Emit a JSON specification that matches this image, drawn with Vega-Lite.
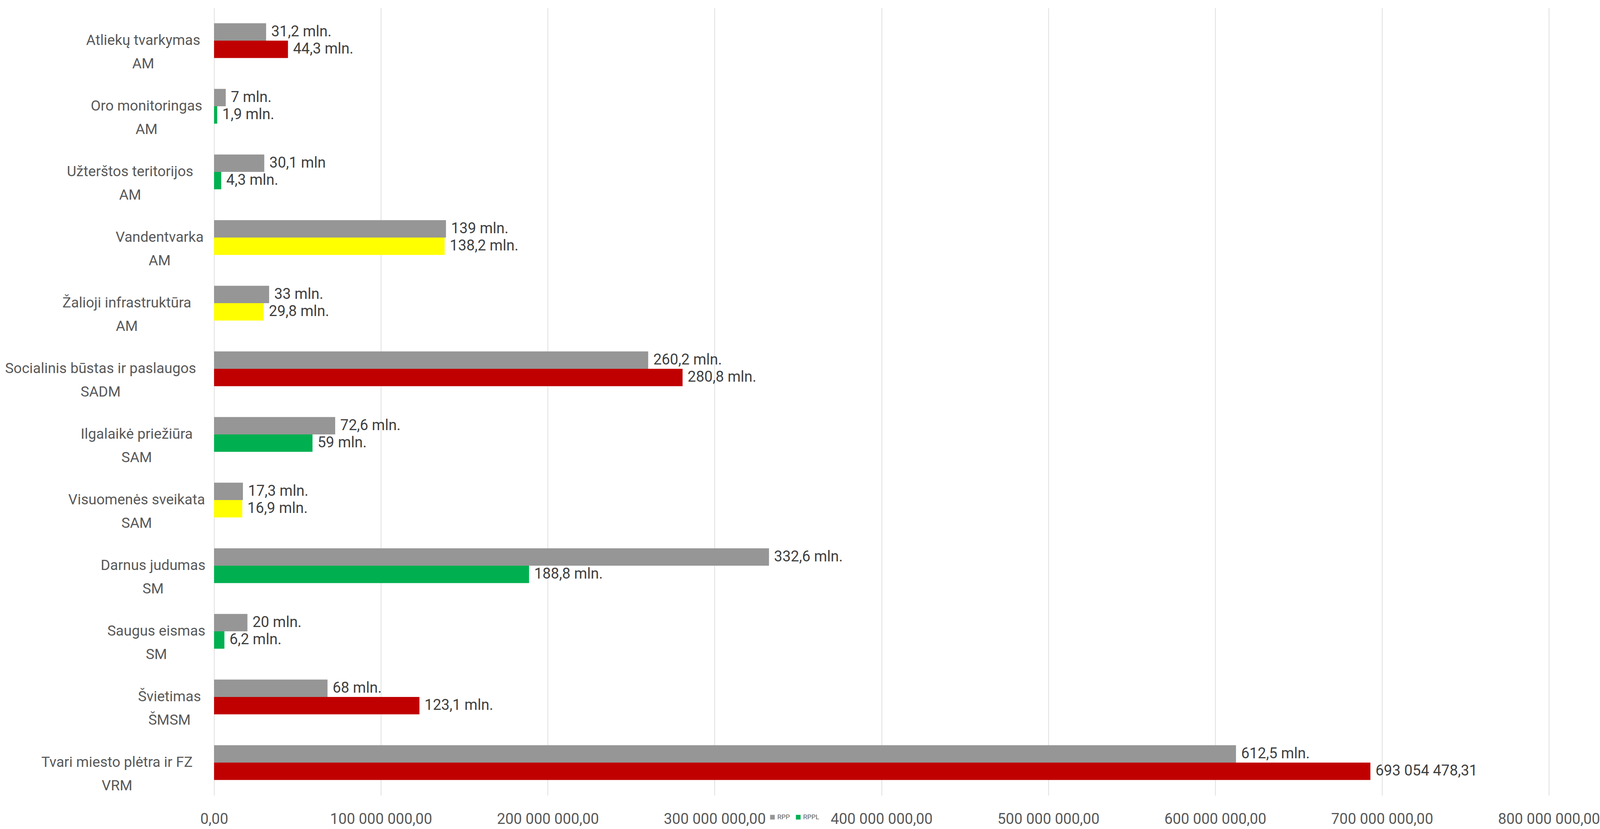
{
  "$schema": "https://vega.github.io/schema/vega-lite/v6.json",
  "autosize": {"type": "fit", "contains": "padding"},
  "width": 4102,
  "height": 2122,
  "padding": {"left": 12, "top": 20, "right": 6, "bottom": 6},
  "background": "#ffffff",
  "config": {
    "view": {"stroke": null},
    "font": "Roboto"
  },
  "data": {
    "values": [
      {"kat": "Atliekų tvarkymas|AM", "serija": "RPP", "grupe": "RPP", "suma": 31200000, "etikete": "31,2 mln."},
      {"kat": "Atliekų tvarkymas|AM", "serija": "RPPL", "grupe": "RPPL-raudona", "suma": 44300000, "etikete": "44,3 mln."},
      {"kat": "Oro monitoringas|AM", "serija": "RPP", "grupe": "RPP", "suma": 7000000, "etikete": "7 mln."},
      {"kat": "Oro monitoringas|AM", "serija": "RPPL", "grupe": "RPPL", "suma": 1900000, "etikete": "1,9 mln."},
      {"kat": "Užterštos teritorijos|AM", "serija": "RPP", "grupe": "RPP", "suma": 30100000, "etikete": "30,1 mln"},
      {"kat": "Užterštos teritorijos|AM", "serija": "RPPL", "grupe": "RPPL", "suma": 4300000, "etikete": "4,3 mln."},
      {"kat": "Vandentvarka|AM", "serija": "RPP", "grupe": "RPP", "suma": 139000000, "etikete": "139 mln."},
      {"kat": "Vandentvarka|AM", "serija": "RPPL", "grupe": "RPPL-geltona", "suma": 138200000, "etikete": "138,2 mln."},
      {"kat": "Žalioji infrastruktūra|AM", "serija": "RPP", "grupe": "RPP", "suma": 33000000, "etikete": "33 mln."},
      {"kat": "Žalioji infrastruktūra|AM", "serija": "RPPL", "grupe": "RPPL-geltona", "suma": 29800000, "etikete": "29,8 mln."},
      {"kat": "Socialinis būstas ir paslaugos|SADM", "serija": "RPP", "grupe": "RPP", "suma": 260200000, "etikete": "260,2 mln."},
      {"kat": "Socialinis būstas ir paslaugos|SADM", "serija": "RPPL", "grupe": "RPPL-raudona", "suma": 280800000, "etikete": "280,8 mln."},
      {"kat": "Ilgalaikė priežiūra|SAM", "serija": "RPP", "grupe": "RPP", "suma": 72600000, "etikete": "72,6 mln."},
      {"kat": "Ilgalaikė priežiūra|SAM", "serija": "RPPL", "grupe": "RPPL", "suma": 59000000, "etikete": "59 mln."},
      {"kat": "Visuomenės sveikata|SAM", "serija": "RPP", "grupe": "RPP", "suma": 17300000, "etikete": "17,3 mln."},
      {"kat": "Visuomenės sveikata|SAM", "serija": "RPPL", "grupe": "RPPL-geltona", "suma": 16900000, "etikete": "16,9 mln."},
      {"kat": "Darnus judumas|SM", "serija": "RPP", "grupe": "RPP", "suma": 332600000, "etikete": "332,6 mln."},
      {"kat": "Darnus judumas|SM", "serija": "RPPL", "grupe": "RPPL", "suma": 188800000, "etikete": "188,8 mln."},
      {"kat": "Saugus eismas|SM", "serija": "RPP", "grupe": "RPP", "suma": 20000000, "etikete": "20 mln."},
      {"kat": "Saugus eismas|SM", "serija": "RPPL", "grupe": "RPPL", "suma": 6200000, "etikete": "6,2 mln."},
      {"kat": "Švietimas|ŠMSM", "serija": "RPP", "grupe": "RPP", "suma": 68000000, "etikete": "68 mln."},
      {"kat": "Švietimas|ŠMSM", "serija": "RPPL", "grupe": "RPPL-raudona", "suma": 123100000, "etikete": "123,1 mln."},
      {"kat": "Tvari miesto plėtra ir FZ|VRM", "serija": "RPP", "grupe": "RPP", "suma": 612500000, "etikete": "612,5 mln."},
      {"kat": "Tvari miesto plėtra ir FZ|VRM", "serija": "RPPL", "grupe": "RPPL-raudona", "suma": 693054478.31, "etikete": "693 054 478,31"}
    ]
  },
  "encoding": {
    "y": {
      "field": "kat",
      "type": "nominal",
      "sort": null,
      "title": null,
      "scale": {"paddingInner": 0.47, "paddingOuter": 0.235},
      "axis": {
        "domain": false,
        "ticks": false,
        "tickSize": 0,
        "grid": false,
        "labelFont": "Roboto",
        "labelFontSize": 37,
        "labelColor": "#595959",
        "labelAlign": "center",
        "labelBaseline": "middle",
        "labelLineHeight": 60,
        "labelLimit": 0,
        "labelPadding": {"expr": "39 + 8.4 * length(split(datum.label, '|')[0])"},
        "labelExpr": "split(datum.label, '|')"
      }
    },
    "yOffset": {
      "field": "serija",
      "type": "nominal",
      "scale": {"paddingInner": 0, "paddingOuter": 0}
    },
    "x": {
      "field": "suma",
      "type": "quantitative",
      "title": null,
      "scale": {"domain": [0, 800000000], "nice": false},
      "axis": {
        "values": [0, 100000000, 200000000, 300000000, 400000000, 500000000, 600000000, 700000000, 800000000],
        "domain": false,
        "ticks": false,
        "tickSize": 0,
        "grid": true,
        "gridColor": "#D9D9D9",
        "gridWidth": 1.7,
        "labelFont": "Roboto",
        "labelFontSize": 38,
        "labelColor": "#595959",
        "labelPadding": 42,
        "labelLimit": 0,
        "labelFlush": false,
        "labelOverlap": false,
        "labelExpr": "replace(replace(format(datum.value, ',.2f'), regexp(',', 'g'), ' '), '.', ',')"
      }
    }
  },
  "layer": [
    {
      "mark": {"type": "bar"},
      "encoding": {
        "color": {
          "field": "grupe",
          "type": "nominal",
          "title": null,
          "scale": {
            "domain": ["RPP", "RPPL", "RPPL-raudona", "RPPL-geltona"],
            "range": ["#969696", "#00B050", "#C00000", "#FFFF00"]
          },
          "legend": {
            "values": ["RPP", "RPPL"],
            "orient": "none",
            "legendX": 1421,
            "legendY": 2063,
            "direction": "horizontal",
            "symbolType": "square",
            "symbolSize": 144,
            "symbolStrokeWidth": 0,
            "labelFont": "Roboto",
            "labelFontSize": 17,
            "labelColor": "#595959",
            "labelOffset": 4,
            "columnPadding": 13,
            "padding": 0
          }
        }
      }
    },
    {
      "mark": {"type": "text", "align": "left", "baseline": "middle", "dx": 13, "font": "Roboto", "fontSize": 38, "color": "#404040"},
      "encoding": {
        "text": {"field": "etikete", "type": "nominal"}
      }
    }
  ]
}
